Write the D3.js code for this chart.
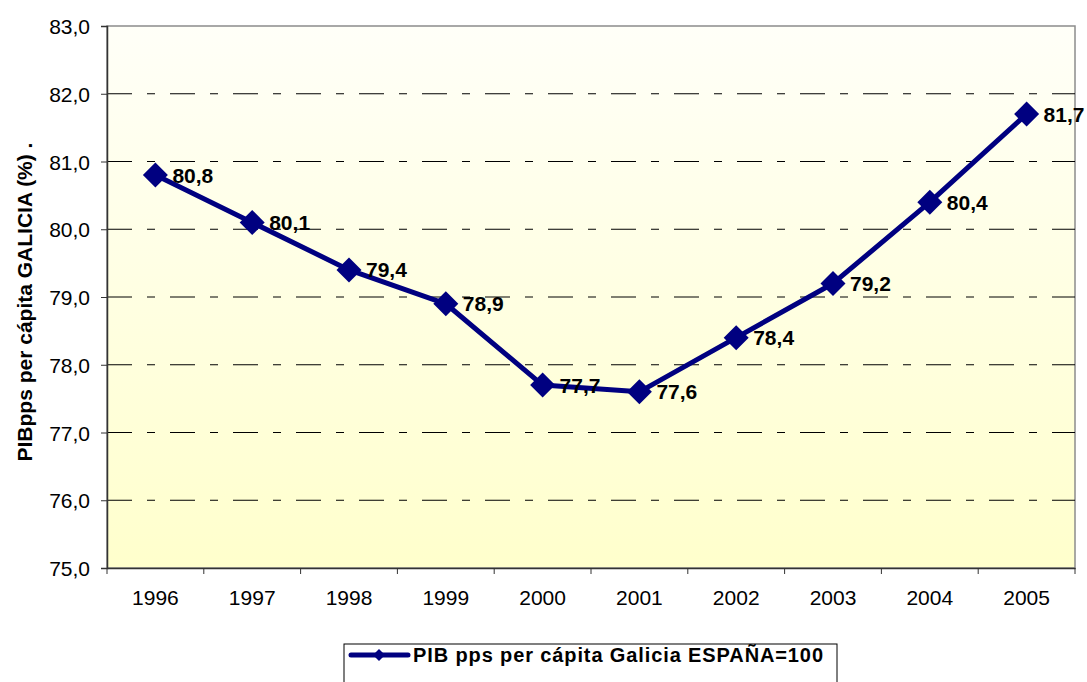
<!DOCTYPE html>
<html>
<head>
    <script src="https://d3js.org/d3.v7.min.js"></script>
    <style>
        body { margin: 0; background: #fff; }
        text { font-family: "Liberation Sans", Arial, sans-serif; fill: #000; }
    </style>
</head>
<body>
<svg id="chart" width="1087" height="682"></svg>
<script>
    // data
    var years = ["1996", "1997", "1998", "1999", "2000", "2001", "2002", "2003", "2004", "2005"];
    var values = [80.8, 80.1, 79.4, 78.9, 77.7, 77.6, 78.4, 79.2, 80.4, 81.7];
    var yTicks = [75, 76, 77, 78, 79, 80, 81, 82, 83];
    var seriesName = "PIB pps per cápita Galicia ESPAÑA=100";
    var yTitle = "PIBpps per cápita GALICIA (%) .";

    var margin = { top: 26, right: 12, bottom: 114, left: 107 },
        width = 1087 - margin.left - margin.right,
        height = 682 - margin.top - margin.bottom;

    var svg = d3.select("#chart");
    var g = svg.append("g")
        .attr("transform", "translate(" + margin.left + "," + margin.top + ")");

    var fmt = function (v) { return d3.format(".1f")(v).replace(".", ","); };

    var x = d3.scaleBand().domain(years).range([0, width]);
    var y = d3.scaleLinear().domain([75, 83]).range([height, 0]);

    // background gradient
    var defs = svg.append("defs");
    var grad = defs.append("linearGradient").attr("id", "bg")
        .attr("x1", 0).attr("y1", 0).attr("x2", 0).attr("y2", 1);
    grad.append("stop").attr("offset", "0%").attr("stop-color", "#fffff8");
    grad.append("stop").attr("offset", "100%").attr("stop-color", "#ffffcc");

    g.append("rect")
        .attr("width", width).attr("height", height)
        .attr("fill", "url(#bg)")
        .attr("stroke", "#8c8c8c").attr("stroke-width", 1.5);

    // gridlines
    g.append("g")
        .selectAll("line")
        .data(yTicks.filter(function (d) { return d > 75 && d < 83; }))
        .enter().append("line")
        .attr("x1", 0).attr("x2", width)
        .attr("y1", function (d) { return y(d); })
        .attr("y2", function (d) { return y(d); })
        .attr("stroke", "#000").attr("stroke-width", 1)
        .attr("stroke-dasharray", "25,15,8,15");

    // y axis
    var yAxis = g.append("g")
        .call(d3.axisLeft(y).tickValues(yTicks).tickFormat(fmt).tickSize(6).tickPadding(11));
    yAxis.select(".domain").attr("stroke", "#333").attr("stroke-width", 1.5);
    yAxis.selectAll(".tick line").attr("stroke", "#333");
    yAxis.selectAll("text").style("font-size", "21px").attr("dy", "0.36em");

    // x axis with ticks at category boundaries
    var xAxis = g.append("g")
        .attr("transform", "translate(0," + height + ")")
        .call(d3.axisBottom(x).tickSize(0).tickPadding(22));
    xAxis.select(".domain").attr("stroke", "#333").attr("stroke-width", 1.5);
    xAxis.selectAll("text").style("font-size", "21px");
    xAxis.selectAll(".bound")
        .data(d3.range(years.length + 1))
        .enter().append("line")
        .attr("x1", function (i) { return i * x.bandwidth(); })
        .attr("x2", function (i) { return i * x.bandwidth(); })
        .attr("y1", 0).attr("y2", 6)
        .attr("stroke", "#333");

    var cx = function (i) { return x(years[i]) + x.bandwidth() / 2; };
    var data = values.map(function (v, i) { return { year: years[i], value: v, i: i }; });

    // line
    g.append("path")
        .datum(data)
        .attr("fill", "none")
        .attr("stroke", "#000080")
        .attr("stroke-width", 5)
        .attr("stroke-linejoin", "round")
        .attr("d", d3.line()
            .x(function (d) { return cx(d.i); })
            .y(function (d) { return y(d.value); }));

    // diamond markers
    var diamond = "M0,-12.5L12.5,0L0,12.5L-12.5,0Z";
    g.append("g").selectAll("path")
        .data(data).enter().append("path")
        .attr("d", diamond)
        .attr("fill", "#000080")
        .attr("transform", function (d) { return "translate(" + cx(d.i) + "," + y(d.value) + ")"; });

    // value labels
    g.append("g").selectAll("text")
        .data(data).enter().append("text")
        .attr("x", function (d) { return cx(d.i) + 17; })
        .attr("y", function (d) { return y(d.value); })
        .attr("dy", "0.36em")
        .style("font-size", "21px")
        .style("font-weight", "bold")
        .text(function (d) { return fmt(d.value); });

    // y title
    svg.append("text")
        .attr("transform", "translate(32,302) rotate(-90)")
        .attr("text-anchor", "middle")
        .style("font-size", "21px")
        .style("font-weight", "bold")
        .text(yTitle);

    // legend
    var lg = svg.append("g").attr("transform", "translate(344,644)");
    lg.append("rect")
        .attr("width", 493).attr("height", 44)
        .attr("fill", "#fff").attr("stroke", "#000").attr("stroke-width", 1);
    lg.append("line")
        .attr("x1", 7).attr("x2", 64).attr("y1", 11).attr("y2", 11)
        .attr("stroke", "#000080").attr("stroke-width", 5).attr("stroke-linecap", "round");
    lg.append("path")
        .attr("d", "M0,-6L6,0L0,6L-6,0Z")
        .attr("fill", "#000080")
        .attr("transform", "translate(35,11)");
    lg.append("text")
        .attr("x", 69).attr("y", 11).attr("dy", "0.36em")
        .attr("textLength", 410).attr("lengthAdjust", "spacing")
        .style("font-size", "20px").style("font-weight", "bold")
        .text(seriesName);
</script>
</body>
</html>
